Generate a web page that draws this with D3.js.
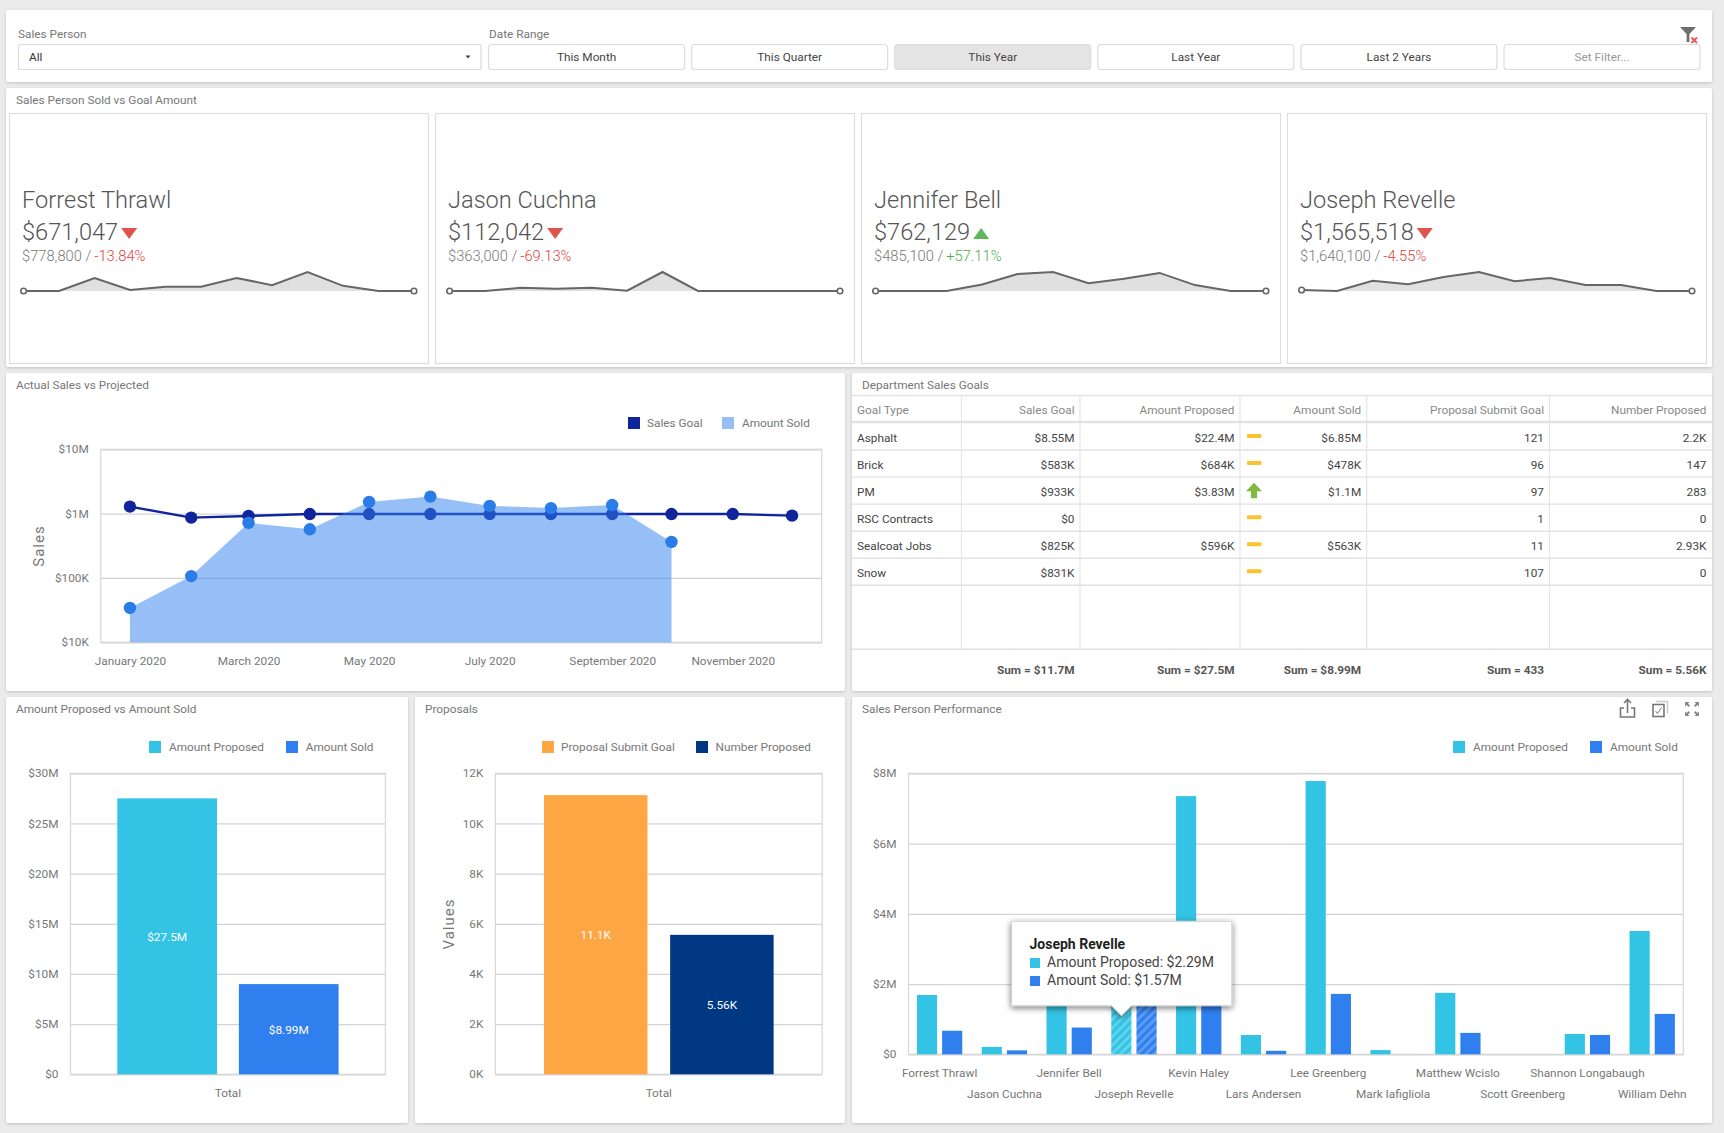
<!DOCTYPE html>
<html>
<head>
<meta charset="utf-8">
<script src="https://cdn.jsdelivr.net/npm/d3@7"></script>
<style>
  html, body { margin: 0; padding: 0; background: #ebebeb; overflow: hidden; }
  svg { display: block; }
  text { font-family: Roboto, Lato, sans-serif; font-size: 12px; fill: #666; }
  .grid line { stroke: #d4d4d4; stroke-width: 1.3; }
  .grid path { display: none; }
</style>
</head>
<body>
<script>
const W = 1724, H = 1133;

// filter bar
const dateButtons = ["This Month", "This Quarter", "This Year", "Last Year", "Last 2 Years", "Set Filter..."];

// kpi tiles
const kpiNames = ["Forrest Thrawl", "Jason Cuchna", "Jennifer Bell", "Joseph Revelle"];
const kpiValues = ["$671,047", "$112,042", "$762,129", "$1,565,518"];
const kpiGoals = ["$778,800", "$363,000", "$485,100", "$1,640,100"];
const kpiDeltas = ["-13.84%", "-69.13%", "+57.11%", "-4.55%"];
const kpiSpark = [
  [0, 0, 133000, 10000, 43000, 43000, 133000, 60000, 194000, 53000, 0, 0],
  [0, 0, 13000, 9100, 13000, 1300, 75600, 0, 0, 0, 0, 0],
  [0, 0, 0, 57700, 150000, 167000, 69000, 107000, 159000, 52000, 0, 0],
  [18000, 0, 185000, 125000, 257000, 347000, 179000, 239000, 108000, 108000, 0, 0]
];

// actual sales vs projected
const months = ["2020-01-01", "2020-02-01", "2020-03-01", "2020-04-01", "2020-05-01", "2020-06-01",
                "2020-07-01", "2020-08-01", "2020-09-01", "2020-10-01", "2020-11-01", "2020-12-01"];
const salesGoal = [1285000, 867000, 920000, 985000, 985000, 985000, 985000, 985000, 985000, 985000, 985000, 930000];
const amountSoldByMonth = [34200, 107000, 716000, 571000, 1520000, 1840000, 1320000, 1220000, 1360000, 363000];
const monthTicks = ["2020-01-01", "2020-03-01", "2020-05-01", "2020-07-01", "2020-09-01", "2020-11-01"];
const logTicks = [10000, 100000, 1000000, 10000000];
const logLabels = ["$10K", "$100K", "$1M", "$10M"];

// department table
const tableHeader = ["Goal Type", "Sales Goal", "Amount Proposed", "Amount Sold", "Proposal Submit Goal", "Number Proposed"];
const goalTypes = ["Asphalt", "Brick", "PM", "RSC Contracts", "Sealcoat Jobs", "Snow"];
const goalSales = ["$8.55M", "$583K", "$933K", "$0", "$825K", "$831K"];
const goalProposed = ["$22.4M", "$684K", "$3.83M", "", "$596K", ""];
const goalSold = ["$6.85M", "$478K", "$1.1M", "", "$563K", ""];
const goalSubmit = ["121", "96", "97", "1", "11", "107"];
const goalNumber = ["2.2K", "147", "283", "0", "2.93K", "0"];
const goalStatus = ["flat", "flat", "up", "flat", "flat", "flat"];
const tableSums = ["", "Sum = $11.7M", "Sum = $27.5M", "Sum = $8.99M", "Sum = 433", "Sum = 5.56K"];

// totals
const amountSeries = ["Amount Proposed", "Amount Sold"];
const amountTotals = [27500000, 8990000];
const amountLabels = ["$27.5M", "$8.99M"];
const proposalSeries = ["Proposal Submit Goal", "Number Proposed"];
const proposalTotals = [11130, 5560];
const proposalLabels = ["11.1K", "5.56K"];

// sales person performance
const people = ["Forrest Thrawl", "Jason Cuchna", "Jennifer Bell", "Joseph Revelle", "Kevin Haley", "Lars Andersen",
                "Lee Greenberg", "Mark Iafigliola", "Matthew Wcislo", "Scott Greenberg", "Shannon Longabaugh", "William Dehn"];
const proposedByPerson = [1690000, 210000, 1670000, 2290000, 7350000, 550000, 7780000, 120000, 1750000, 0, 580000, 3510000];
const soldByPerson = [671000, 112000, 762000, 1566000, 1750000, 100000, 1720000, 0, 610000, 0, 550000, 1150000];

const CYAN = "#33c3e5", BLUE = "#2f7fef", ORANGE = "#fea644", NAVY = "#003884", GOAL = "#10249b", GREY = "#666";

const svg = d3.select("body").append("svg").attr("width", W).attr("height", H);

// defs: card shadow, tooltip shadow, hatch patterns
const defs = svg.append("defs");
const cardShadow = defs.append("filter").attr("id", "card").attr("x", "-2%").attr("y", "-5%").attr("width", "104%").attr("height", "110%");
cardShadow.append("feDropShadow").attr("dx", 0).attr("dy", 1).attr("stdDeviation", 1.5).attr("flood-color", "#000").attr("flood-opacity", 0.18);
const tipShadow = defs.append("filter").attr("id", "tip").attr("x", "-15%").attr("y", "-15%").attr("width", "130%").attr("height", "135%");
tipShadow.append("feDropShadow").attr("dx", 0).attr("dy", 2).attr("stdDeviation", 3).attr("flood-color", "#000").attr("flood-opacity", 0.55);
[["hatchCyan", CYAN, "#5fd3ec"], ["hatchBlue", BLUE, "#5a9bf5"]].forEach(function(p) {
  const pat = defs.append("pattern").attr("id", p[0]).attr("width", 6).attr("height", 6)
    .attr("patternUnits", "userSpaceOnUse").attr("patternTransform", "rotate(45)");
  pat.append("rect").attr("width", 6).attr("height", 6).attr("fill", p[1]);
  pat.append("rect").attr("width", 3).attr("height", 6).attr("fill", p[2]);
});

function card(x, y, w, h, title) {
  svg.append("rect").attr("x", x).attr("y", y).attr("width", w).attr("height", h)
    .attr("fill", "#fff").attr("rx", 2).attr("filter", "url(#card)");
  if (title) {
    label(x + 10, y + 12, title, {fill: "#777"});
  }
}

function label(x, y, txt, opts) {
  opts = opts || {};
  return svg.append("text").attr("x", x).attr("y", y).attr("dy", "0.3em")
    .attr("text-anchor", opts.anchor || "start")
    .style("fill", opts.fill || GREY)
    .style("font-size", (opts.size || 11.8) + "px")
    .style("font-weight", opts.weight || 400)
    .text(txt);
}

function legend(items, y) {
  items.forEach(function(it) {
    svg.append("rect").attr("x", it.x).attr("y", y - 6).attr("width", 12).attr("height", 12).attr("fill", it.color);
    label(it.tx, y, it.name, {fill: "#777"});
  });
}

function plotFrame(x0, x1, y0, y1) {
  svg.append("rect").attr("x", x0).attr("y", y0).attr("width", x1 - x0).attr("height", y1 - y0)
    .attr("fill", "none").attr("stroke", "#d8d8d8").attr("stroke-width", 1.2);
}

function yGrid(scale, x0, x1, values, fmt) {
  const g = svg.append("g").attr("class", "grid").attr("transform", "translate(" + x0 + ",0)")
    .call(d3.axisLeft(scale).tickValues(values).tickSize(-(x1 - x0)).tickPadding(12).tickFormat(fmt));
  g.selectAll("text").attr("dy", "0.3em").style("fill", "#777").style("font-size", "11.8px");
  return g;
}

// ---- filter bar ----
card(6, 10, 1706, 72);
label(18, 34, "Sales Person", {fill: "#777"});
label(489, 34, "Date Range", {fill: "#777"});
svg.append("rect").attr("x", 18.5).attr("y", 44.5).attr("width", 462.5).attr("height", 25).attr("rx", 2)
  .attr("fill", "#fff").attr("stroke", "#dcdcdc").attr("stroke-width", 1.2);
label(29, 57.5, "All", {fill: "#333"});
svg.append("path").attr("d", "M465.5,55.5 h5 l-2.5,3 z").attr("fill", "#444");

const btnX = d3.scaleBand().domain(dateButtons).range([488.6, 1700]).paddingInner(0.035);
svg.selectAll("rect.btn").data(dateButtons).enter().append("rect").attr("class", "btn")
  .attr("x", function(d) { return btnX(d); })
  .attr("y", 44.5).attr("width", btnX.bandwidth()).attr("height", 25).attr("rx", 3)
  .attr("fill", function(d) { return d == "This Year" ? "#e4e4e4" : "#fff"; })
  .attr("stroke", "#dcdcdc").attr("stroke-width", 1.2);
dateButtons.forEach(function(d) {
  label(btnX(d) + btnX.bandwidth() / 2, 57.5, d, {anchor: "middle", fill: d == "Set Filter..." ? "#999" : "#444"});
});

// clear filter icon
svg.append("path").attr("d", "M1680,27 h16 l-6.6,7 v8 h-2.8 v-8 z").attr("fill", "#6e6e6e");
svg.append("path").attr("d", "M1691.5,37.5 l5.5,5.5 M1697,37.5 l-5.5,5.5").attr("stroke", "#e05555").attr("stroke-width", 1.8);

// ---- kpi tiles ----
card(6, 88, 1706, 279, "Sales Person Sold vs Goal Amount");
const tileX = [9, 435, 861, 1287];

kpiNames.forEach(function(name, i) {
  const x0 = tileX[i];
  const isUp = kpiDeltas[i][0] == "+";
  const color = isUp ? "#4fae4f" : "#e0413c";
  svg.append("rect").attr("x", x0 + 0.5).attr("y", 113.5).attr("width", 419).attr("height", 250)
    .attr("fill", "#fff").attr("stroke", "#dedede").attr("stroke-width", 1.2);
  label(x0 + 13, 201, name, {size: 23.6, fill: "#555", weight: 300});
  const val = label(x0 + 13, 233, kpiValues[i], {size: 23.6, fill: "#555", weight: 300});
  const tx = x0 + 13 + val.node().getComputedTextLength() + 3;
  svg.append("path")
    .attr("d", isUp ? "M" + tx + ",239 h16 l-8,-11 z" : "M" + tx + ",228 h16 l-8,11 z")
    .attr("fill", isUp ? "#5cb85c" : "#e0524d");
  const goal = label(x0 + 13, 256.8, kpiGoals[i] + " / ", {size: 14.7, fill: "#777", weight: 300});
  label(x0 + 13 + goal.node().getComputedTextLength() + 3, 256.8, kpiDeltas[i], {size: 14.7, fill: color, weight: 300});

  // sparkline
  const sx = d3.scaleLinear().domain([0, 11]).range([x0 + 14.6, x0 + 405]);
  const sy = d3.scaleLinear().domain([0, d3.max(kpiSpark[i])]).range([291, 272]);
  const area = d3.area().x(function(d, j) { return sx(j); }).y0(291).y1(function(d) { return sy(d); });
  const line = d3.line().x(function(d, j) { return sx(j); }).y(function(d) { return sy(d); });
  svg.append("path").datum(kpiSpark[i]).attr("d", area).attr("fill", "#e0e0e0");
  svg.append("path").datum(kpiSpark[i]).attr("d", line).attr("fill", "none").attr("stroke", "#666").attr("stroke-width", 2);
  [0, 11].forEach(function(j) {
    svg.append("circle").attr("cx", sx(j)).attr("cy", sy(kpiSpark[i][j])).attr("r", 2.8)
      .attr("fill", "#fff").attr("stroke", "#666").attr("stroke-width", 1.6);
  });
});

// ---- actual sales vs projected ----
card(6, 373, 839, 318, "Actual Sales vs Projected");
legend([{x: 628, tx: 647, name: "Sales Goal", color: GOAL}, {x: 722, tx: 742, name: "Amount Sold", color: "#97bdf5"}], 423);

const parseDate = d3.timeParse("%Y-%m-%d");
const monthDates = months.map(parseDate);
const lineX = d3.scaleTime().domain([new Date(2019, 11, 17, 6), new Date(2020, 11, 16)]).range([100.8, 821.7]);
const lineY = d3.scaleLog().domain([10000, 10000000]).range([642.3, 449.3]);

plotFrame(100.8, 821.7, 449.3, 642.3);
yGrid(lineY, 100.8, 821.7, logTicks, function(d) { return logLabels[logTicks.indexOf(d)]; });

svg.append("g").attr("transform", "translate(0,642.3)")
  .call(d3.axisBottom(lineX).tickValues(monthTicks.map(parseDate)).tickSize(0).tickPadding(14).tickFormat(d3.timeFormat("%B %Y")))
  .call(function(g) { g.select(".domain").remove(); })
  .selectAll("text").style("fill", "#777").style("font-size", "11.8px");

const goalRows = monthDates.map(function(d, i) { return {date: d, value: salesGoal[i]}; });
const soldRows = amountSoldByMonth.map(function(v, i) { return {date: monthDates[i], value: v}; });

svg.append("path").datum(goalRows)
  .attr("d", d3.line().x(function(d) { return lineX(d.date); }).y(function(d) { return lineY(d.value); }))
  .attr("fill", "none").attr("stroke", GOAL).attr("stroke-width", 2.4);
svg.selectAll("circle.goal").data(goalRows).enter().append("circle").attr("class", "goal")
  .attr("cx", function(d) { return lineX(d.date); })
  .attr("cy", function(d) { return lineY(d.value); })
  .attr("r", 6.2).attr("fill", GOAL);

svg.append("path").datum(soldRows)
  .attr("d", d3.area().x(function(d) { return lineX(d.date); }).y0(642.3).y1(function(d) { return lineY(d.value); }))
  .attr("fill", BLUE).attr("fill-opacity", 0.5);
svg.selectAll("circle.sold").data(soldRows).enter().append("circle").attr("class", "sold")
  .attr("cx", function(d) { return lineX(d.date); })
  .attr("cy", function(d) { return lineY(d.value); })
  .attr("r", 6.2).attr("fill", "#2a7de9");

svg.append("text").attr("transform", "translate(39,546) rotate(-90)").attr("text-anchor", "middle").attr("dy", "0.35em")
  .style("font-size", "15px").style("fill", "#777").style("letter-spacing", "1px").text("Sales");

// ---- department table ----
card(852, 373, 860, 318, null);
label(862, 385, "Department Sales Goals", {fill: "#777"});

const colEdges = [852, 961.5, 1080, 1240, 1366.7, 1549.5, 1712];
const rowY = d3.scaleBand().domain(goalTypes).range([423, 585.3]);
const tableCols = [goalTypes, goalSales, goalProposed, goalSold, goalSubmit, goalNumber];

function hline(y, sw) {
  svg.append("line").attr("x1", 852).attr("x2", 1712).attr("y1", y).attr("y2", y).attr("stroke", "#e2e2e2").attr("stroke-width", sw || 1.4);
}
hline(395.5);
hline(422, 2.6);
goalTypes.forEach(function(d) { hline(rowY(d) + rowY.bandwidth()); });
hline(649.3);
colEdges.slice(1, 6).forEach(function(x) {
  svg.append("line").attr("x1", x).attr("x2", x).attr("y1", 395.5).attr("y2", 649.3).attr("stroke", "#e4e4e4").attr("stroke-width", 1.2);
});

tableHeader.forEach(function(h, c) {
  const xText = c == 0 ? colEdges[0] + 5 : colEdges[c + 1] - 5.5;
  const anchor = c == 0 ? "start" : "end";
  label(xText, 410, h, {anchor: anchor, fill: "#888"});
  tableCols[c].forEach(function(v, r) {
    label(xText, rowY(goalTypes[r]) + rowY.bandwidth() / 2 + 1.8, v, {anchor: anchor, fill: "#444"});
  });
  if (tableSums[c]) {
    label(xText, 670.5, tableSums[c], {anchor: anchor, fill: "#555", weight: 700});
  }
});

goalStatus.forEach(function(s, r) {
  const cy = rowY(goalTypes[r]) + rowY.bandwidth() / 2;
  if (s == "up") {
    svg.append("path").attr("d", "M1254," + (cy - 8) + " l8,8.5 h-5 v7 h-6 v-7 h-5 z").attr("fill", "#7cbb3c");
  } else {
    svg.append("rect").attr("x", 1247).attr("y", cy - 2.5).attr("width", 14.4).attr("height", 4).attr("rx", 1).attr("fill", "#fdc02f");
  }
});

// ---- two total bar charts ----
function totalsChart(opts) {
  card(opts.card[0], 697, opts.card[1], 426, opts.title);
  legend(opts.legend, 747);
  const x = d3.scaleBand().domain(opts.series).range([opts.x0, opts.x1]).paddingInner(0.18).paddingOuter(0.385);
  const y = d3.scaleLinear().domain([0, opts.max]).range([1074.3, 773.3]);
  plotFrame(opts.x0, opts.x1, 773.3, 1074.3);
  yGrid(y, opts.x0, opts.x1, opts.ticks, opts.fmt);
  svg.selectAll(null).data(opts.series).enter().append("rect")
    .attr("x", function(d) { return x(d); })
    .attr("y", function(d, i) { return y(opts.values[i]); })
    .attr("width", x.bandwidth())
    .attr("height", function(d, i) { return y(0) - y(opts.values[i]); })
    .attr("fill", function(d, i) { return opts.colors[i]; });
  opts.series.forEach(function(s, i) {
    label(x(s) + x.bandwidth() / 2, (y(opts.values[i]) + y(0)) / 2 + opts.labelShift, opts.labels[i], {anchor: "middle", fill: "#fff"});
  });
  label((opts.x0 + opts.x1) / 2, 1093.2, "Total", {anchor: "middle", fill: "#777"});
}

totalsChart({
  card: [6, 402], title: "Amount Proposed vs Amount Sold", series: amountSeries, values: amountTotals, labels: amountLabels,
  colors: [CYAN, BLUE], x0: 70.5, x1: 385.4, max: 30000000, ticks: d3.range(0, 30000001, 5000000), labelShift: 1.3,
  fmt: function(d) { return d == 0 ? "$0" : "$" + d / 1000000 + "M"; },
  legend: [{x: 149, tx: 169, name: amountSeries[0], color: CYAN}, {x: 286, tx: 305.7, name: amountSeries[1], color: BLUE}]
});
totalsChart({
  card: [415, 430], title: "Proposals", series: proposalSeries, values: proposalTotals, labels: proposalLabels,
  colors: [ORANGE, NAVY], x0: 495.4, x1: 822.2, max: 12000, ticks: d3.range(0, 12001, 2000), labelShift: 0.5,
  fmt: function(d) { return d / 1000 + "K"; },
  legend: [{x: 542, tx: 561, name: proposalSeries[0], color: ORANGE}, {x: 696, tx: 715.5, name: proposalSeries[1], color: NAVY}]
});
svg.append("text").attr("transform", "translate(449,924) rotate(-90)").attr("text-anchor", "middle").attr("dy", "0.35em")
  .style("font-size", "15px").style("fill", "#777").style("letter-spacing", "1px").text("Values");

// ---- sales person performance ----
card(852, 697, 860, 426, "Sales Person Performance");
legend([{x: 1453, tx: 1473, name: amountSeries[0], color: CYAN}, {x: 1590, tx: 1610, name: amountSeries[1], color: BLUE}], 747);

const perfX = d3.scaleBand().domain(people).range([908.5, 1683.3]).paddingInner(0.3).paddingOuter(0.13);
const perfInner = d3.scaleBand().domain(amountSeries).range([0, perfX.bandwidth()]).paddingInner(0.2);
const perfY = d3.scaleLinear().domain([0, 8000000]).range([1054.3, 773.3]);

plotFrame(908.5, 1683.3, 773.3, 1054.3);
yGrid(perfY, 908.5, 1683.3, [0, 2000000, 4000000, 6000000, 8000000], function(d) { return d == 0 ? "$0" : "$" + d / 1000000 + "M"; });

amountSeries.forEach(function(s, k) {
  const values = k == 0 ? proposedByPerson : soldByPerson;
  svg.selectAll(null).data(people).enter().append("rect")
    .attr("x", function(d) { return perfX(d) + perfInner(s); })
    .attr("y", function(d, i) { return perfY(values[i]); })
    .attr("width", perfInner.bandwidth())
    .attr("height", function(d, i) { return perfY(0) - perfY(values[i]); })
    .attr("fill", function(d) {
      if (d == "Joseph Revelle") { return k == 0 ? "url(#hatchCyan)" : "url(#hatchBlue)"; }
      return k == 0 ? CYAN : BLUE;
    });
});

people.forEach(function(d, i) {
  label(perfX(d) + perfX.bandwidth() / 2, i % 2 == 0 ? 1073.6 : 1094.6, d, {anchor: "middle", fill: "#777"});
});

// header icons
svg.append("path").attr("d", "M1624,708 h-3.5 v9 h14 v-9 h-3.5 M1627.5,713 v-13 M1624,703 l3.5,-3.5 l3.5,3.5")
  .attr("fill", "none").attr("stroke", "#777").attr("stroke-width", 1.6);
svg.append("path").attr("d", "M1656,701.5 h11.5 v12").attr("fill", "none").attr("stroke", "#ccc").attr("stroke-width", 1.6);
svg.append("rect").attr("x", 1653).attr("y", 704.5).attr("width", 11).attr("height", 12).attr("fill", "#fff").attr("stroke", "#777").attr("stroke-width", 1.6);
svg.append("path").attr("d", "M1655.5,711 l2,2.5 l4,-6").attr("fill", "none").attr("stroke", "#777").attr("stroke-width", 1);
svg.append("path").attr("d", "M1685,702 h4.5 l-1.5,1.5 l2,2 l-1.5,1.5 l-2,-2 l-1.5,1.5 z M1699,702 h-4.5 l1.5,1.5 l-2,2 l1.5,1.5 l2,-2 l1.5,1.5 z M1685,716 h4.5 l-1.5,-1.5 l2,-2 l-1.5,-1.5 l-2,2 l-1.5,-1.5 z M1699,716 h-4.5 l1.5,-1.5 l-2,-2 l1.5,-1.5 l2,2 l1.5,-1.5 z").attr("fill", "#888");

// tooltip
svg.append("path")
  .attr("d", "M1011.6,921.3 H1231.8 V1005.7 H1131.5 L1121.5,1015.7 L1111.5,1005.7 H1011.6 Z")
  .attr("fill", "#fff").attr("stroke", "#d0d0d0").attr("stroke-width", 1).attr("filter", "url(#tip)");
label(1029.5, 945, people[3], {size: 14, weight: 700, fill: "#222"});
svg.append("rect").attr("x", 1030).attr("y", 958).attr("width", 10).attr("height", 10).attr("fill", CYAN);
label(1047, 963, "Amount Proposed: $2.29M", {size: 14, fill: "#444"});
svg.append("rect").attr("x", 1030).attr("y", 976).attr("width", 10).attr("height", 10).attr("fill", BLUE);
label(1047, 981, "Amount Sold: $1.57M", {size: 14, fill: "#444"});
</script>
</body>
</html>
